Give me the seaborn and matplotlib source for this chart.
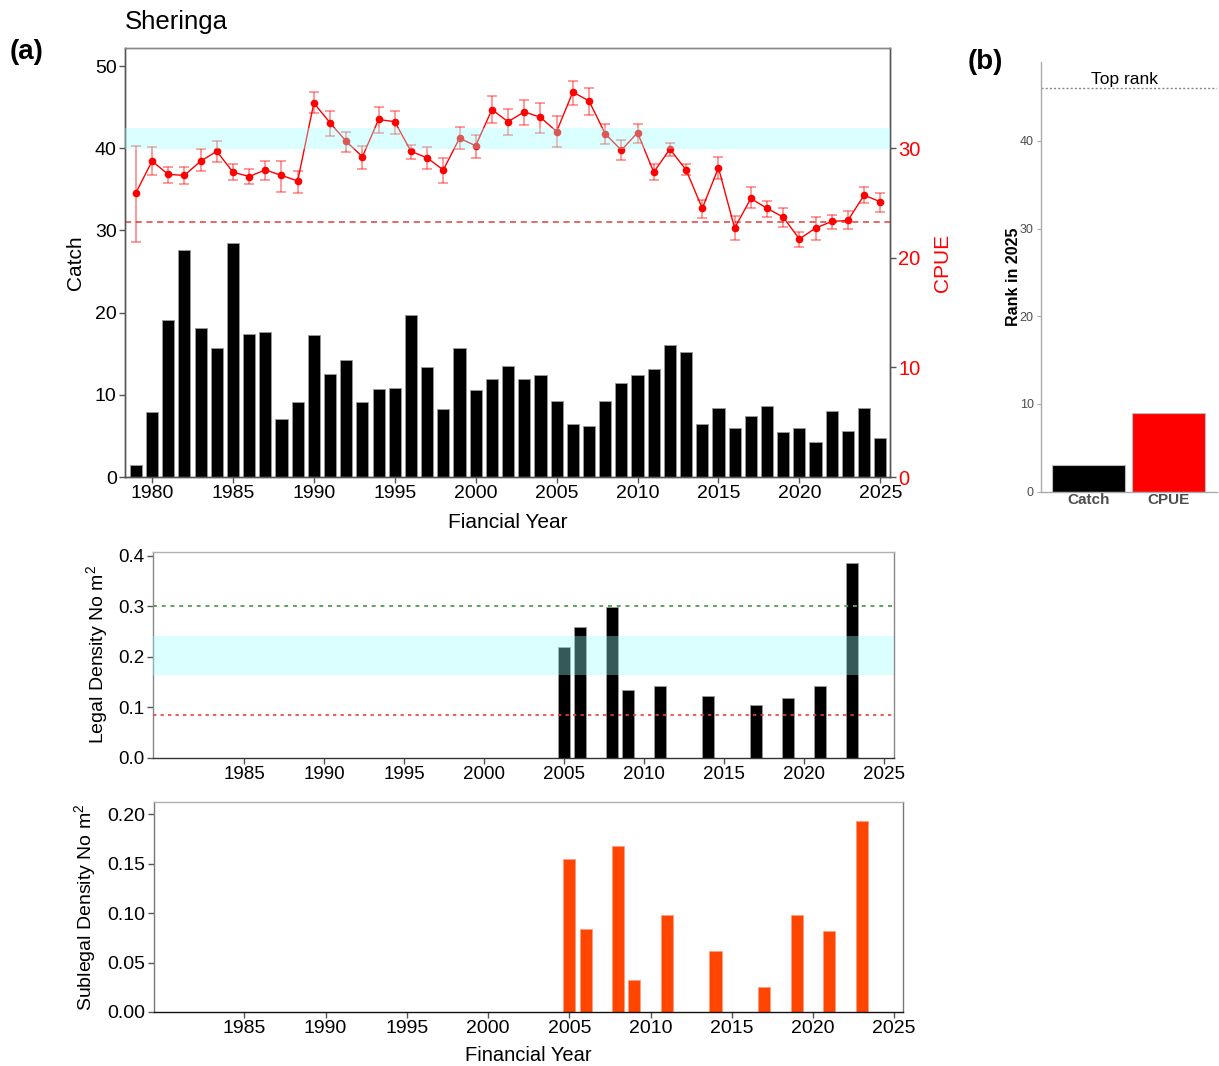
import numpy as np
import pandas as pd
import matplotlib
matplotlib.use("Agg")
import matplotlib.pyplot as plt
import seaborn as sns

# ---- data -------------------------------------------------------------
years = list(range(1979, 2026))
catch = [1.5, 7.9, 19.1, 27.6, 18.1, 15.7, 28.5, 17.4, 17.6, 7.0, 9.1, 17.3,
         12.5, 14.2, 9.1, 10.7, 10.8, 19.7, 13.4, 8.3, 15.7, 10.6, 11.9, 13.5,
         11.9, 12.4, 9.2, 6.4, 6.2, 9.3, 11.4, 12.4, 13.1, 16.0, 15.2, 6.4,
         8.4, 6.0, 7.4, 8.6, 5.5, 6.0, 4.3, 8.0, 5.6, 8.4, 4.7]
cpue = [25.9, 28.8, 27.6, 27.5, 28.8, 29.7, 27.8, 27.4, 28.0, 27.5, 27.0, 34.1,
        32.3, 30.6, 29.2, 32.6, 32.4, 29.7, 29.1, 28.0, 30.9, 30.2, 33.5, 32.4,
        33.3, 32.8, 31.5, 35.1, 34.3, 31.3, 29.8, 31.4, 27.8, 29.9, 28.0, 24.5,
        28.2, 22.7, 25.4, 24.5, 23.7, 21.7, 22.7, 23.3, 23.4, 25.7, 25.1]
cpue_lo = [21.4, 27.5, 26.8, 26.7, 27.9, 28.7, 27.1, 26.7, 27.1, 26.0, 25.9, 33.2,
           31.1, 29.6, 28.1, 31.4, 31.3, 29.0, 28.1, 26.8, 29.9, 29.1, 32.3, 31.2,
           32.1, 31.4, 30.1, 33.9, 33.0, 30.4, 28.9, 30.5, 27.1, 29.3, 27.5, 23.6,
           27.2, 21.6, 24.5, 23.7, 22.8, 21.0, 21.6, 22.6, 22.6, 25.0, 24.2]
cpue_hi = [30.2, 30.1, 28.3, 28.3, 29.9, 30.6, 28.5, 28.1, 28.8, 28.8, 27.9, 35.1,
           33.4, 31.5, 30.2, 33.7, 33.4, 30.3, 30.1, 29.1, 31.9, 31.2, 34.7, 33.6,
           34.4, 34.1, 32.9, 36.1, 35.5, 32.2, 30.7, 32.2, 28.5, 30.5, 28.5, 25.3,
           29.2, 23.8, 26.4, 25.2, 24.5, 22.3, 23.7, 23.9, 24.3, 26.4, 25.9]
cpue_limit = 23.25
cpue_band = (29.9, 31.8)

survey_years = [2005, 2006, 2008, 2009, 2011, 2014, 2017, 2019, 2021, 2023]
legal_density = [0.219, 0.259, 0.299, 0.133, 0.141, 0.123, 0.104, 0.118, 0.141, 0.386]
sublegal_density = [0.155, 0.084, 0.168, 0.032, 0.098, 0.062, 0.025, 0.098, 0.082, 0.193]
legal_target = 0.30
legal_limit = 0.085
legal_band = (0.163, 0.241)

rank_labels = ["Catch", "CPUE"]
rank_values = [3, 9]
rank_colors = ["black", "red"]
top_rank = 46

# ---- style ------------------------------------------------------------
sns.set_theme(style="white")
plt.rcParams["font.family"] = ["Liberation Sans", "DejaVu Sans"]
plt.rcParams["mathtext.fontset"] = "custom"
plt.rcParams["mathtext.rm"] = "Liberation Sans"
plt.rcParams["mathtext.it"] = "Liberation Sans:italic"
plt.rcParams["mathtext.bf"] = "Liberation Sans:bold"
for key in ["text.color", "axes.labelcolor", "xtick.labelcolor", "ytick.labelcolor"]:
    plt.rcParams[key] = "black"

BAND = (0.6, 1.0, 1.0, 0.35)
W, H = 1219, 1066
fig = plt.figure(figsize=(W / 100, H / 100), dpi=100)


def px_axes(left, top, right, bottom):
    return fig.add_axes([left / W, 1 - bottom / H, (right - left) / W, (bottom - top) / H])


def style_box(ax, side_col="#555555", top_col="#888888", bottom_col="#555555"):
    for s in ["left", "right"]:
        ax.spines[s].set_color(side_col)
    ax.spines["top"].set_color(top_col)
    ax.spines["bottom"].set_color(bottom_col)
    for s in ax.spines.values():
        s.set_linewidth(1.0)
        s.set_visible(True)


# ---- (a) catch and CPUE ----------------------------------------------
df = pd.DataFrame({"year": years, "catch": catch, "cpue": cpue,
                   "lo": cpue_lo, "hi": cpue_hi})

ax = px_axes(125, 48, 890, 477)
sns.barplot(data=df, x="year", y="catch", native_scale=True, width=0.75,
            color="black", saturation=1, edgecolor="#9a9a9a", linewidth=0.6, ax=ax)
ax.set_xlim(1978.33, 2025.6)
ax.set_ylim(0, 52.19)
ax.set_yticks([0, 10, 20, 30, 40, 50])
ax.set_xticks(range(1980, 2026, 5))
ax.tick_params(axis="both", which="both", direction="out", length=4, width=1,
               color="#555555", labelsize=14, labelcolor="black", pad=2,
               left=True, bottom=True)
ax.set_ylabel("Catch", fontsize=15, va="center", color="black")
ax.yaxis.set_label_coords(-0.065, 0.5)
ax.set_xlabel("Fiancial Year", fontsize=15, va="center", color="black")
ax.xaxis.set_label_coords(0.5, -0.105)
style_box(ax)

ax2 = ax.twinx()
ax2.errorbar(df["year"], df["cpue"],
             yerr=[df["cpue"] - df["lo"], df["hi"] - df["cpue"]],
             fmt="none", ecolor=(1, 0, 0, 0.5), elinewidth=1.1, capsize=3.5,
             capthick=1.1, zorder=2)
sns.lineplot(data=df, x="year", y="cpue", color="red", lw=1.0, marker="o",
             markersize=5.5, markeredgewidth=0, ax=ax2, zorder=3)
ax2.axhline(cpue_limit, color="#e0403a", lw=1.1, ls=(0, (4, 3)), zorder=1)
ax2.axhspan(*cpue_band, color=BAND, lw=0, zorder=4)
ax2.set_ylim(0, 39.12)
ax2.set_yticks([0, 10, 20, 30])
ax2.set_xlim(1978.33, 2025.6)
ax2.tick_params(axis="y", direction="out", length=4, width=1, color="#555555",
                labelsize=14.5, labelcolor="red", pad=2, right=True)
ax2.set_ylabel("CPUE", fontsize=15, color="red", va="center", rotation=90)
ax2.yaxis.set_label_coords(1.069, 0.5)
ax2.set_xlabel("")
style_box(ax2)

fig.text(10 / W, 1 - 52 / H, "(a)", fontsize=20, fontweight="bold",
         ha="left", va="center", color="black")
fig.text(125 / W, 1 - 22 / H, "Sheringa", fontsize=18.5, ha="left",
         va="center", color="black")

# ---- legal density -----------------------------------------------------
dens = pd.DataFrame({"year": survey_years, "legal": legal_density,
                     "sublegal": sublegal_density})

axm = px_axes(152.6, 552, 894, 757.7)
sns.barplot(data=dens, x="year", y="legal", native_scale=True, width=0.75,
            color="black", saturation=1, edgecolor="#9a9a9a", linewidth=0.6,
            ax=axm, zorder=2)
axm.axhline(legal_target, color="#5da35d", lw=1.4, ls=(0, (2, 2.5)), zorder=3)
axm.axhline(legal_limit, color="#e8413a", lw=1.2, ls=(0, (2, 2.5)), zorder=3)
axm.axhspan(*legal_band, color=BAND, lw=0, zorder=4)
axm.set_xlim(1979.29, 2025.6)
axm.set_ylim(0, 0.407)
axm.set_xticks(range(1985, 2026, 5))
axm.set_yticks([0.0, 0.1, 0.2, 0.3, 0.4])
axm.set_yticklabels(["0.0", "0.1", "0.2", "0.3", "0.4"])
axm.tick_params(axis="both", direction="out", length=4, width=1, color="#555555",
                labelsize=13.5, labelcolor="black", pad=2, left=True, bottom=True)
axm.set_xlabel("")
axm.set_ylabel("Legal Density No m$^{2}$", fontsize=14, va="center", color="black")
axm.yaxis.set_label_coords(-0.075, 0.5)
style_box(axm, side_col="#888888", top_col="#b0b0b0", bottom_col="#333333")

# ---- sublegal density --------------------------------------------------
axs = px_axes(153.8, 802, 903, 1012)
sns.barplot(data=dens, x="year", y="sublegal", native_scale=True, width=0.74,
            color="#ff4500", saturation=1, edgecolor="#ff9a80", linewidth=0.6,
            ax=axs)
axs.set_xlim(1979.43, 2025.54)
axs.set_ylim(0, 0.2124)
axs.set_xticks(range(1985, 2026, 5))
axs.set_yticks([0.0, 0.05, 0.10, 0.15, 0.20])
axs.set_yticklabels(["0.00", "0.05", "0.10", "0.15", "0.20"])
axs.tick_params(axis="both", direction="out", length=4, width=1, color="#555555",
                labelsize=14, labelcolor="black", pad=2, left=True, bottom=True)
axs.set_xlabel("Financial Year", fontsize=14.5, va="center", color="black")
axs.xaxis.set_label_coords(0.5, -0.205)
axs.set_ylabel("Sublegal Density No m$^{2}$", fontsize=14, va="center", color="black")
axs.yaxis.set_label_coords(-0.092, 0.5)
style_box(axs, side_col="#777777", top_col="#b0b0b0", bottom_col="#111111")

# ---- (b) rank ----------------------------------------------------------
rank = pd.DataFrame({"what": rank_labels, "rank": rank_values})
axb = px_axes(1040.7, 61.7, 1217, 491.7)
sns.barplot(data=rank, x="what", y="rank", hue="what", palette=rank_colors,
            saturation=1, width=0.91, edgecolor="#bbbbbb", linewidth=0.8,
            legend=False, ax=axb)
axb.axhline(top_rank, color="#888888", lw=1.0, ls=(0, (1.5, 1.5)))
axb.text(0.45, top_rank + 0.2, "Top rank", fontsize=12.5, ha="center",
         va="bottom", color="black")
axb.set_xlim(-0.6, 1.6)
axb.set_ylim(0, 49.03)
axb.set_yticks([0, 10, 20, 30, 40])
for s in ["top", "right"]:
    axb.spines[s].set_visible(False)
for s in ["left", "bottom"]:
    axb.spines[s].set_color("#aaaaaa")
    axb.spines[s].set_linewidth(1.0)
axb.tick_params(axis="y", direction="out", length=3, width=0.8, color="#aaaaaa",
                labelsize=9, labelcolor="#4d4d4d", pad=2, left=True)
axb.tick_params(axis="x", length=0, labelsize=11, labelcolor="#4d4d4d", pad=1)
for t in axb.get_xticklabels():
    t.set_fontweight("bold")
axb.set_xlabel("")
axb.set_ylabel("Rank in 2025", fontsize=11.5, fontweight="bold", va="center",
               color="black")
axb.yaxis.set_label_coords(-0.157, 0.5)

fig.text(968 / W, 1 - 62 / H, "(b)", fontsize=20, fontweight="bold",
         ha="left", va="center", color="black")

fig.savefig("out.png", dpi=100, facecolor="white")
